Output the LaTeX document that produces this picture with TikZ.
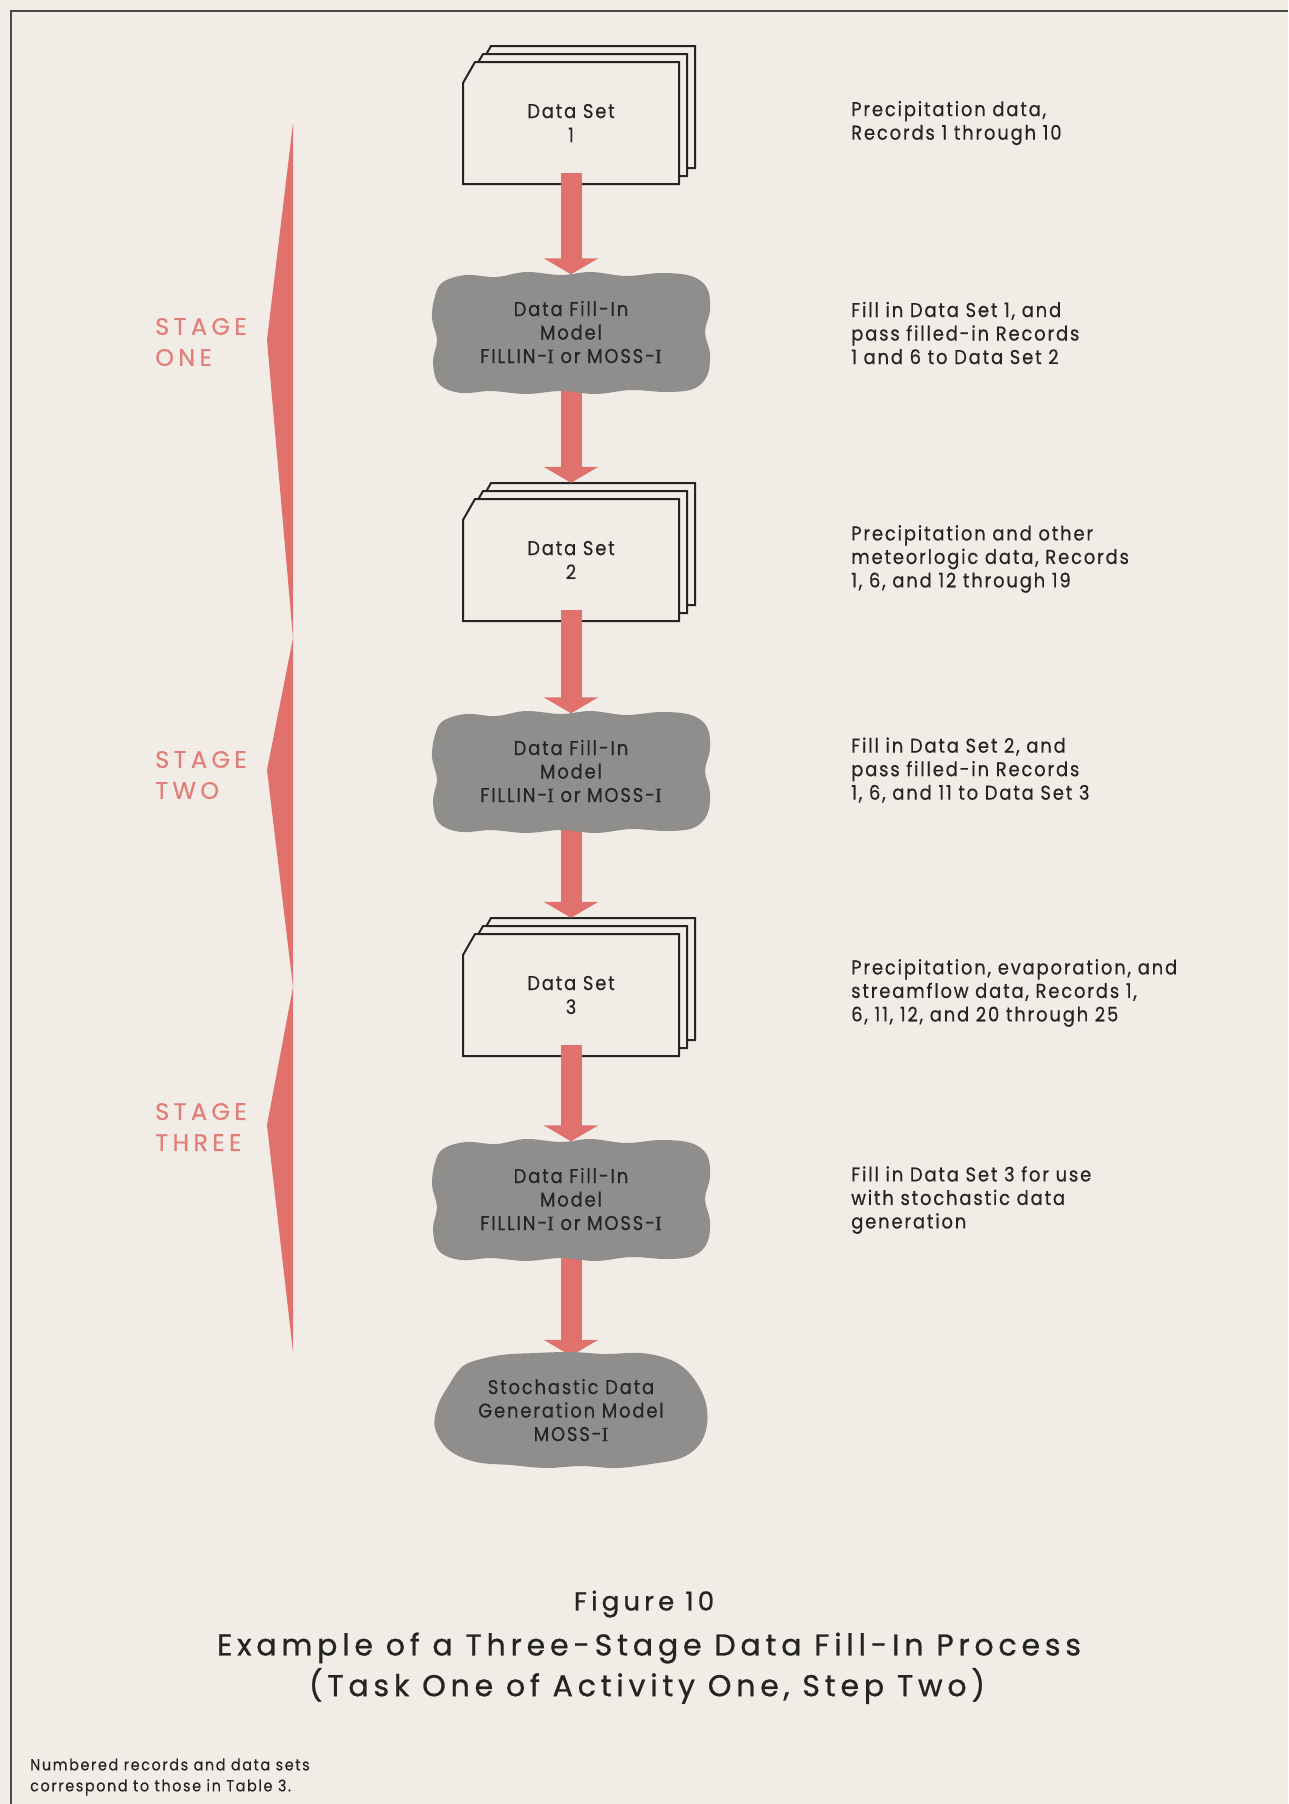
\documentclass[tikz,border=0pt]{standalone}
\usepackage{fontspec}
\setmainfont{Poppins}
\newfontfamily\bodyfont{Poppins}[FakeStretch=0.9,FakeBold=0.4,LetterSpace=9]
\newfontfamily\stagefont{Poppins}[FakeBold=0.3,LetterSpace=18]
\newfontfamily\capfont{Poppins}[FakeBold=0.8,LetterSpace=16]
\newfontfamily\notefont{Poppins}[FakeStretch=0.9,FakeBold=0.3,LetterSpace=10]
\newfontfamily\romanfont{Liberation Serif}[FakeBold=0.4]
\usetikzlibrary{arrows.meta}

\definecolor{paper}{HTML}{F1EDE6}
\definecolor{flowred}{HTML}{E0716D}
\definecolor{stagered}{HTML}{E27E7A}
\definecolor{cloudgray}{HTML}{8F8E8C}
\definecolor{ink}{HTML}{242424}
\definecolor{framegray}{HTML}{4A4A48}

% serif capital I used in the model names
\newcommand\sI{{\romanfont I}}

\pgfdeclarelayer{paperlayer}
\pgfdeclarelayer{cardlayer}
\pgfdeclarelayer{arrowlayer}
\pgfdeclarelayer{cloudlayer}
\pgfsetlayers{paperlayer,cardlayer,arrowlayer,cloudlayer,main}

\tikzset{
  card/.style={draw=ink, line width=2pt, fill=paper, line join=miter},
  dataset/.style={minimum width=216pt, minimum height=122pt, inner sep=0pt,
    align=center, text=ink, font=\bodyfont\fontsize{20}{24}\selectfont},
  model/.style={minimum width=278pt, minimum height=123pt, inner sep=0pt,
    align=center, text=ink, font=\bodyfont\fontsize{20}{23.5}\selectfont},
  note/.style={anchor=west, inner sep=0pt, align=left, text=ink,
    font=\bodyfont\fontsize{20}{23.5}\selectfont},
  stage/.style={anchor=west, inner sep=0pt, align=left, text=stagered,
    font=\stagefont\fontsize{24}{31}\selectfont},
  flow/.style={draw=flowred, line width=21pt,
    -{Triangle[width=54pt,length=16pt]}},
  caption/.style={inner sep=0pt, text=ink},
}

% a stack of three punched cards behind a data-set node
\newcommand\cardstack[1]{%
  \begin{pgfonlayer}{cardlayer}
    \foreach \k in {2,1,0}
      \draw[card, shift={(#1.center)}, shift={(8*\k,-8*\k)}]
        (-96,-61) -- (108,-61) -- (108,61) -- (-108,61) -- (-108,-40) -- cycle;
  \end{pgfonlayer}}

% gray irregular blob behind a model node
\newcommand\modelcloud[1]{%
  \begin{pgfonlayer}{cloudlayer}
    \fill[cloudgray, shift={(#1.center)}] plot[smooth cycle, tension=0.6] coordinates {
      (-128,-50) (-105,-57) (-75,-55) (-45,-60) (-10,-57) (20,-60) (55,-56)
      (90,-59) (120,-56) (136,-44) (139,-22) (134,0) (139,22) (136,44)
      (122,57) (95,60) (60,58) (25,62) (-10,59) (-45,62) (-80,59) (-110,61)
      (-132,52) (-138,30) (-134,8) (-139,-14) (-136,-36)};
  \end{pgfonlayer}}

\newcommand\genercloud[1]{%
  \begin{pgfonlayer}{cloudlayer}
    \fill[cloudgray, shift={(#1.center)}] plot[smooth cycle, tension=0.6] coordinates {
      (-100,-48) (-70,-55) (-35,-57) (0,-58) (35,-56) (70,-57) (100,-50)
      (120,-35) (134,-10) (136,15) (128,35) (110,48) (80,54) (45,58)
      (10,56) (-25,58) (-60,55) (-95,52) (-122,40) (-136,18) (-133,-5)
      (-122,-25) (-112,-40)};
  \end{pgfonlayer}}

\begin{document}
\begin{tikzpicture}[x=1pt,y=-1pt]
\begin{pgfonlayer}{paperlayer}
  \fill[paper] (0,0) rectangle (1288,1804);
\end{pgfonlayer}
\useasboundingbox (0,0) rectangle (1288,1804);

% page frame
\draw[framegray, line width=2.5pt] (11,1804) -- (11,11) -- (1288,11);

% stage brackets
\fill[flowred] (293,123) -- (267,340) -- (293,638) -- (267,770) -- (293,987)
  -- (267,1125) -- (293,1352) -- cycle;
\node[stage] (s1) at (155,342) {STAGE\\ONE};
\node[stage] (s2) at (155,775) {STAGE\\TWO};
\node[stage] (s3) at (155,1127) {STAGE\\THREE};

% data sets and models
\node[dataset] (d1) at (571,123) {Data Set\\1};
\node[model] (c1) at (571,332) {Data Fill-In\\Model\\FILLIN-\sI{} or MOSS-\sI};
\node[dataset] (d2) at (571,560) {Data Set\\2};
\node[model] (c2) at (571,771) {Data Fill-In\\Model\\FILLIN-\sI{} or MOSS-\sI};
\node[dataset] (d3) at (571,995) {Data Set\\3};
\node[model] (c3) at (571,1199) {Data Fill-In\\Model\\FILLIN-\sI{} or MOSS-\sI};
\node[model, minimum width=272pt, minimum height=116pt] (c4) at (571,1410)
  {Stochastic Data\\Generation Model\\MOSS-\sI};

\cardstack{d1}
\cardstack{d2}
\cardstack{d3}
\modelcloud{c1}
\modelcloud{c2}
\modelcloud{c3}
\genercloud{c4}

% flow arrows
\begin{pgfonlayer}{arrowlayer}
  \draw[flow] ([yshift=11pt]d1.south) -- ([yshift=-4pt]c1.north);
  \draw[flow] ([yshift=8pt]c1.south) -- ([yshift=16pt]d2.north);
  \draw[flow] ([yshift=11pt]d2.south) -- ([yshift=-4pt]c2.north);
  \draw[flow] ([yshift=8pt]c2.south) -- ([yshift=16pt]d3.north);
  \draw[flow] ([yshift=11pt]d3.south) -- ([yshift=-4pt]c3.north);
  \draw[flow] ([yshift=8pt]c3.south) -- ([yshift=-4pt]c4.north);
\end{pgfonlayer}

% descriptions
\node[note] (n1) at (851,123) {Precipitation data,\\Records 1 through 10};
\node[note] (n2) at (851,333) {Fill in Data Set 1, and\\pass filled-in Records\\1 and 6 to Data Set 2};
\node[note] (n3) at (851,559) {Precipitation and other\\meteorlogic data, Records\\1, 6, and 12 through 19};
\node[note] (n4) at (851,770) {Fill in Data Set 2, and\\pass filled-in Records\\1, 6, and 11 to Data Set 3};
\node[note] (n5) at (851,993) {Precipitation, evaporation, and\\streamflow data, Records 1,\\6, 11, 12, and 20 through 25};
\node[note] (n6) at (851,1200) {Fill in Data Set 3 for use\\with stochastic data\\generation};

% caption
\node[caption, font=\capfont\fontsize{26}{26}\selectfont] (fig) at (644,1604) {Figure 10};
\node[caption, font=\capfont\fontsize{30}{30}\selectfont] (title) at (649,1648)
  {Example of a Three-Stage Data Fill-In Process};
\node[caption, font=\capfont\fontsize{30}{30}\selectfont] (sub) at (647,1686)
  {(Task One of Activity One, Step Two)};
\node[caption, anchor=west, align=left, font=\notefont\fontsize{16}{21}\selectfont] (foot) at (30,1777)
  {Numbered records and data sets\\correspond to those in Table 3.};
\end{tikzpicture}
\end{document}
